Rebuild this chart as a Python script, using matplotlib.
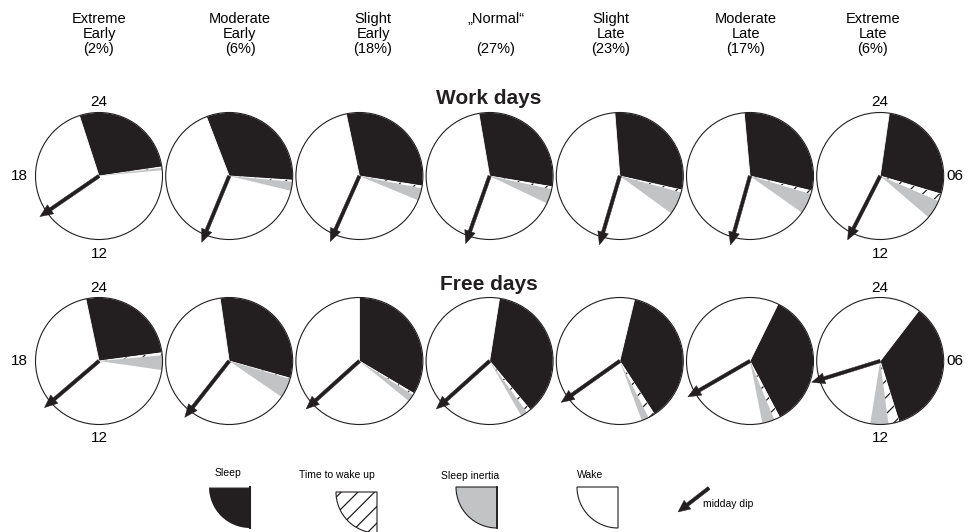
import math
import matplotlib
matplotlib.use('Agg')
import matplotlib.pyplot as plt
from matplotlib.patches import Wedge, Circle, FancyArrow

plt.rcParams['font.family'] = ['Liberation Sans', 'DejaVu Sans']
plt.rcParams['hatch.linewidth'] = 0.9

# chronotype groups
groups = ['Extreme\nEarly\n(2%)', 'Moderate\nEarly\n(6%)', 'Slight\nEarly\n(18%)',
          '\u201eNormal\u201c\n\n(27%)', 'Slight\nLate\n(23%)', 'Moderate\nLate\n(17%)',
          'Extreme\nLate\n(6%)']

# clock times in hours (24 h dial, 24 at top)
work_sleep_on = [22.8, 22.6, 23.2, 23.35, 23.7, 23.65, 0.55]
work_sleep_off = [5.45, 6.25, 6.6, 6.65, 6.85, 6.9, 7.1]
work_wake_up = [5.5, 6.35, 6.75, 6.8, 7.0, 7.1, 7.55]
work_inertia_end = [5.65, 6.9, 7.5, 7.7, 8.4, 8.35, 8.7]
work_dip = [15.7, 13.5, 13.6, 13.3, 13.1, 13.05, 13.8]

free_sleep_on = [23.2, 23.45, 0.0, 0.6, 0.9, 1.75, 2.5]
free_sleep_off = [5.5, 7.05, 8.05, 9.35, 9.8, 10.15, 10.85]
free_wake_up = [5.65, 7.1, 8.15, 9.6, 10.2, 10.5, 11.5]
free_inertia_end = [6.55, 8.3, 8.6, 10.0, 10.65, 11.25, 12.6]
free_dip = [15.3, 14.55, 15.2, 15.2, 15.65, 16.0, 16.85]

BLACK = '#231f20'
GRAY = '#c2c3c5'
W, H = 968, 532

fig = plt.figure(figsize=(9.68, 5.32), dpi=100)
ax = fig.add_axes([0, 0, 1, 1])
ax.set_xlim(0, W)
ax.set_ylim(0, H)
ax.set_aspect('equal')
ax.axis('off')


def Y(y):
    return H - y


def ang(h):
    return 90 - h * 15


def sector(cx, cy, r, h1, h2, **kw):
    # clockwise from h1 to h2 on the dial
    ax.add_patch(Wedge((cx, Y(cy)), r, ang(h2), ang(h1), **kw))


R = 63.5
col_x = [99 + 130.2 * i for i in range(7)]
rows = [
    (176, work_sleep_on, work_sleep_off, work_wake_up, work_inertia_end, work_dip),
    (361, free_sleep_on, free_sleep_off, free_wake_up, free_inertia_end, free_dip),
]

for cy, son, soff, wup, iend, dip in rows:
    for i, cx in enumerate(col_x):
        ax.add_patch(Circle((cx, Y(cy)), R, fc='white', ec='none', zorder=1))
        sector(cx, cy, R, son[i], soff[i], fc=BLACK, ec='white', lw=0.6, zorder=2)
        sector(cx, cy, R, soff[i], wup[i], fc='white', ec=BLACK, lw=0,
               hatch='//', zorder=2)
        sector(cx, cy, R, wup[i], iend[i], fc=GRAY, ec='none', lw=0, zorder=2)
        ax.add_patch(Circle((cx, Y(cy)), R, fc='none', ec=BLACK, lw=0.8, zorder=3))
        a = math.radians(ang(dip[i]))
        L = 1.13 * R
        ax.add_patch(FancyArrow(cx, Y(cy), L * math.cos(a), L * math.sin(a),
                                width=3.5, head_width=11, head_length=13,
                                length_includes_head=True, fc=BLACK, ec=BLACK,
                                lw=0.3, zorder=4))

# dial labels on the outer clocks
for cy in [176, 361]:
    for cx in [col_x[0], col_x[-1]]:
        ax.text(cx, Y(cy - R - 10), '24', ha='center', va='center', fontsize=11)
        ax.text(cx, Y(cy + R + 14), '12', ha='center', va='center', fontsize=11)
    ax.text(col_x[0] - R - 8, Y(cy), '18', ha='right', va='center', fontsize=11)
    ax.text(col_x[-1] + R + 3, Y(cy), '06', ha='left', va='center', fontsize=11)

ax.text(489, Y(98), 'Work days', ha='center', va='center', fontsize=15,
        fontweight='bold', color=BLACK)
ax.text(489, Y(284), 'Free days', ha='center', va='center', fontsize=15,
        fontweight='bold', color=BLACK)

head_x = [99, 240, 373, 496, 611, 746, 873]
for hx, g in zip(head_x, groups):
    ax.text(hx, Y(12), g, ha='center', va='top', fontsize=10.5, linespacing=1.1)

# legend
LR = 41
ax.add_patch(Wedge((250, Y(487)), LR, 180, 270, fc=BLACK, ec='none'))
ax.plot([209, 250], [Y(487), Y(487)], color='#9a9a9a', lw=0.8)
ax.plot([250, 250], [Y(487), Y(528)], color=BLACK, lw=1.5)
ax.text(228, Y(473), 'Sleep', ha='center', va='center', fontsize=7.5)

ax.add_patch(Wedge((377, Y(492)), LR, 180, 270, fc='white', ec=BLACK, lw=0,
                   hatch='//'))
ax.add_patch(Wedge((377, Y(492)), LR, 180, 270, fc='none', ec=BLACK, lw=0.8))
ax.text(337, Y(475), 'Time to wake up', ha='center', va='center', fontsize=7.5)

ax.add_patch(Wedge((497, Y(487)), LR, 180, 270, fc=GRAY, ec=BLACK, lw=0.8))
ax.plot([497, 497], [Y(487), Y(528)], color=BLACK, lw=1.3)
ax.text(470, Y(476), 'Sleep inertia', ha='center', va='center', fontsize=7.5)

ax.add_patch(Wedge((618, Y(487)), LR, 180, 270, fc='white', ec=BLACK, lw=0.8))
ax.text(590, Y(475), 'Wake', ha='center', va='center', fontsize=7.5)

ax.add_patch(FancyArrow(709, Y(488), -31, -24, width=3.5, head_width=11,
                        head_length=12, length_includes_head=True,
                        fc=BLACK, ec=BLACK, lw=0.3))
ax.text(703, Y(504), 'midday dip', ha='left', va='center', fontsize=7.5)

fig.savefig('out.png', dpi=100)
